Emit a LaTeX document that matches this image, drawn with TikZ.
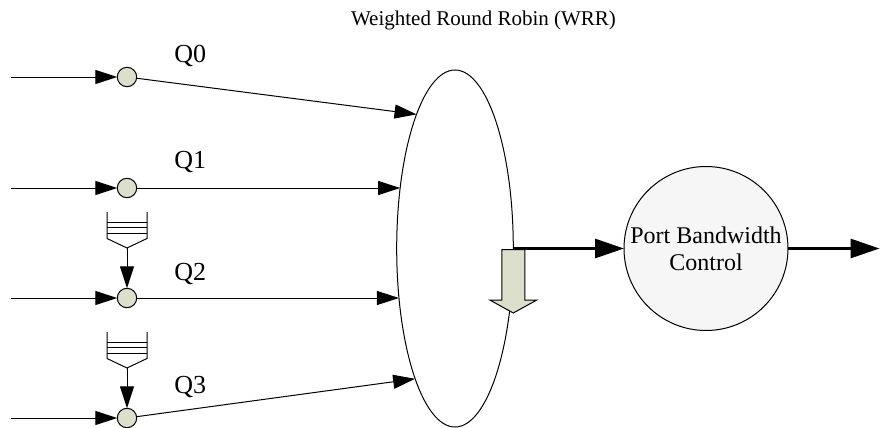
\documentclass[tikz,border=0pt]{standalone}
\usepackage{fontspec}
\setmainfont{Liberation Serif}
\usetikzlibrary{arrows.meta,shapes.geometric}
\definecolor{qfill}{RGB}{220,223,204}
\definecolor{pfill}{RGB}{246,246,246}
\begin{document}
\begin{tikzpicture}[x=0.5pt,y=-0.5pt,
  thinline/.style={line width=0.5pt},
  arr/.style={line width=0.5pt,-{Triangle[length=11pt,width=7pt]}},
  thickarr/.style={line width=1.5pt,-{Triangle[length=14.5pt,width=9.5pt]}},
  qnode/.style={circle,draw,fill=qfill,line width=0.5pt,minimum size=9.7pt,inner sep=0pt,outer sep=0pt},
  qlabel/.style={anchor=base west,inner sep=0pt,font=\fontsize{13}{15}\selectfont},
]
\useasboundingbox (0,0) rectangle (880,428);

% title
\node[anchor=base,inner sep=0pt,font=\fontsize{10.5}{12}\selectfont] (title) at (483.5,25.5) {Weighted Round Robin (WRR)};

% scheduler ellipse
\node[ellipse,draw,line width=0.5pt,minimum width=58.3pt,minimum height=178.5pt,inner sep=0pt,outer sep=0pt] (E) at (455,248.5) {};

% port bandwidth control
\node[circle,draw,fill=pfill,line width=0.5pt,minimum size=82pt,inner sep=0pt,outer sep=0pt,align=center,font=\fontsize{12}{13.5}\selectfont] (P) at (706,248.5) {Port Bandwidth\\Control};

% queue circles
\node[qnode] (c0) at (127,77) {};
\node[qnode] (c1) at (127,188) {};
\node[qnode] (c2) at (127,298) {};
\node[qnode] (c3) at (127,418) {};

% labels
\node[qlabel] (l0) at (174,62) {Q0};
\node[qlabel] (l1) at (174,168) {Q1};
\node[qlabel] (l2) at (174,280) {Q2};
\node[qlabel] (l3) at (174,393) {Q3};

% inputs
\coordinate (in0) at (11,77);
\coordinate (in1) at (11,188);
\coordinate (in2) at (11,298);
\coordinate (in3) at (11,418);
\foreach \k in {0,1,2,3} \draw[arr] (in\k) -- (c\k);

% queue icons
\foreach \t/\k in {212/2,332/3}{
  \draw[thinline] (107,\t) -- (107,{\t+26.5}) -- (127,{\t+36}) coordinate (qb\k) -- (147,{\t+26.5}) -- (147,\t);
  \foreach \d in {10,15.5,21} \draw[thinline] (107,{\t+\d}) -- (147,{\t+\d});
}
\draw[arr] (qb2) -- (c2);
\draw[arr] (qb3) -- (c3);

% queues to scheduler
\draw[arr] (c0) -- (E.106.2);
\draw[arr] (c1.east) -- (c1 -| E.132.2);
\draw[arr] (c2.east) -- (c2 -| E.221.5);
\draw[arr] (c3) -- (E.253.8);

% down arrow
\draw[thinline,fill=qfill] (501.8,249.5) -- (524.8,249.5) -- (524.8,300) -- (536.8,300) -- (513.3,313) -- (489.8,300) -- (501.8,300) -- cycle;

% output path
\draw[thickarr] (E) -- (P);
\coordinate (out) at (879.5,248.5);
\draw[thickarr] (P) -- (out);
\end{tikzpicture}
\end{document}
